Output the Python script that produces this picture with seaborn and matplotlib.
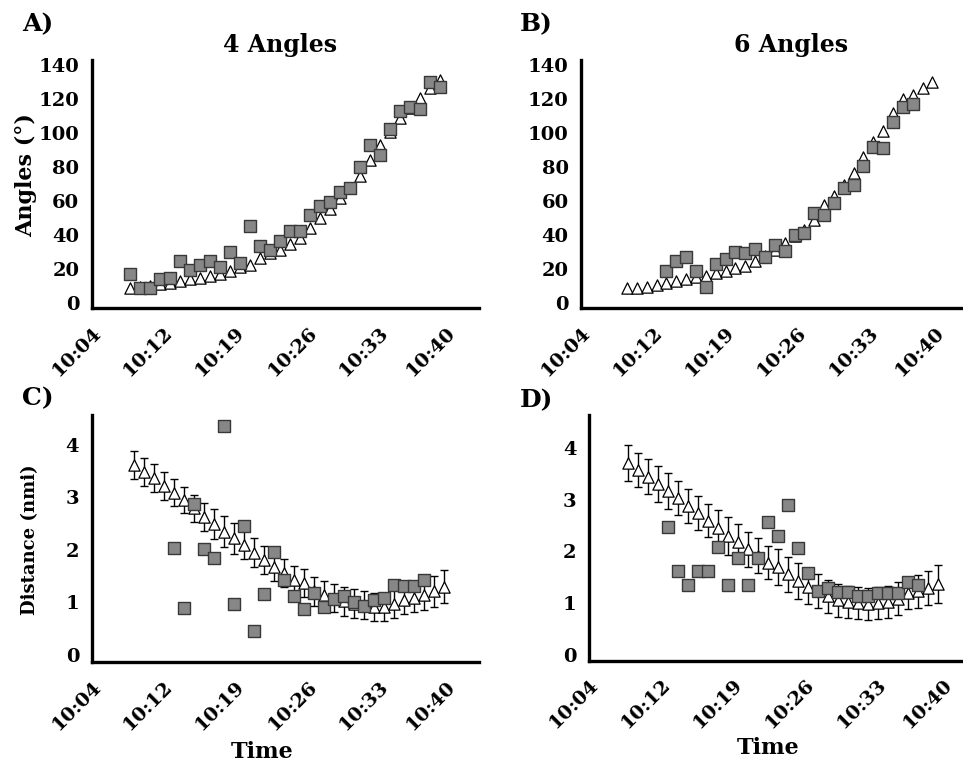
import matplotlib
matplotlib.use('Agg')
import matplotlib.pyplot as plt
import seaborn as sns
import pandas as pd

sns.set_style('white')
plt.rcParams['font.family'] = ['DejaVu Serif', 'Liberation Serif']
plt.rcParams['font.weight'] = 'bold'
for key in ['text.color', 'axes.labelcolor', 'xtick.color', 'ytick.color', 'axes.edgecolor']:
    plt.rcParams[key] = 'black'

# ---- axis ticks (minutes after 10:00) ----
tick_pos = [4.8, 12.0, 19.2, 26.4, 33.6, 40.2]
tick_labels = ['10:04', '10:12', '10:19', '10:26', '10:33', '10:40']

# ---- Panel A: 4 angles ----
tA = [8.6, 9.6, 10.6, 11.6, 12.6, 13.6, 14.6, 15.6, 16.6, 17.6, 18.6, 19.6, 20.6, 21.6, 22.6, 23.6,
      24.6, 25.6, 26.6, 27.6, 28.6, 29.6, 30.6, 31.6, 32.6, 33.6, 34.6, 35.6, 36.6, 37.6, 38.6, 39.6]
A_model = [8.6, 9.2, 10, 11, 11.9, 13.1, 13.9, 14.9, 15.9, 17, 19, 21, 22.3, 26.2, 29.2, 31.1,
           34.4, 38, 43.9, 49.7, 55, 61.5, 67.4, 74.6, 84, 92.8, 100.6, 108.5, 114.3, 120.2, 126, 131]
A_obs = [17, 8.6, 8.6, 13.9, 14.9, 24.7, 19.4, 22.3, 24.7, 21.3, 30.1, 23.3, 45.2, 33.7, 31.1, 36.4,
         42.5, 42.5, 51.7, 57, 59.5, 65, 67.4, 80, 92.8, 86.9, 102, 112.7, 114.9, 113.9, 129.6, 126.8]

# ---- Panel B: 6 angles ----
tB = [9.4, 10.4, 11.4, 12.4, 13.3, 14.3, 15.3, 16.3, 17.3, 18.3, 19.3, 20.2, 21.2, 22.2, 23.2, 24.2,
      25.2, 26.2, 27.1, 28.1, 29.1, 30.1, 31.1, 32.1, 33.0, 34.0, 35.0, 36.0, 37.0, 38.0, 39.0, 39.9]
B_model = [9.0, 9.0, 9.4, 10.6, 11.9, 13.1, 13.9, 15.1, 15.9, 17.4, 18.8, 20.4, 21.7, 24.7, 27.8, 31.0,
           35, 39, 42.9, 48.7, 57.5, 63, 69.3, 76.5, 85.5, 94.7, 101.2, 111.4, 119.5, 122, 126, 130]
tB_obs = [13.3, 14.3, 15.3, 16.3, 17.3, 18.3, 19.3, 20.2, 21.2, 22.2, 23.2, 24.2, 25.2, 26.2, 27.1,
          28.1, 29.1, 30.1, 31.1, 32.1, 33.0, 34.0, 35.0, 36.0, 37.0, 38.0]
B_obs = [19, 24.7, 26.8, 19, 9.6, 22.7, 25.7, 29.8, 29.2, 31.7, 27.2, 34, 30.5, 40, 40.9,
         53, 51.7, 58.5, 67.3, 69.3, 80.4, 91.4, 90.8, 106.5, 114.8, 117]

# ---- Panel C: distance, 4 angles ----
tC = [9.0, 10.0, 11.0, 12.0, 13.0, 14.0, 15.0, 16.0, 17.0, 18.0, 19.0, 20.0, 21.0, 22.0, 23.0, 24.0,
      25.0, 26.0, 27.0, 28.0, 29.0, 30.0, 31.0, 32.0, 33.0, 34.0, 35.0, 36.0, 37.0, 38.0, 39.0, 40.0]
C_model = [3.62, 3.49, 3.37, 3.22, 3.09, 2.95, 2.79, 2.63, 2.49, 2.35, 2.22, 2.10, 1.95, 1.81, 1.68, 1.56,
           1.43, 1.37, 1.21, 1.14, 1.08, 1.02, 0.98, 0.95, 0.92, 0.92, 0.98, 1.05, 1.09, 1.14, 1.21, 1.30]
C_err = [0.27, 0.27, 0.27, 0.26, 0.26, 0.25, 0.26, 0.27, 0.29, 0.29, 0.29, 0.28, 0.28, 0.27, 0.27, 0.27,
         0.27, 0.27, 0.27, 0.27, 0.27, 0.27, 0.27, 0.27, 0.27, 0.27, 0.27, 0.27, 0.28, 0.28, 0.29, 0.31]
tC_obs = [13.0, 14.0, 15.0, 16.0, 17.0, 18.0, 19.0, 20.0, 21.0, 22.0, 23.0, 24.0, 25.0, 26.0, 27.0,
          28.0, 29.0, 30.0, 31.0, 32.0, 33.0, 34.0, 35.0, 36.0, 37.0, 38.0]
C_obs = [2.03, 0.90, 2.88, 2.01, 1.85, 4.36, 0.98, 2.46, 0.46, 1.16, 1.97, 1.42, 1.13, 0.88, 1.19,
         0.92, 1.07, 1.13, 1.00, 0.94, 1.05, 1.09, 1.33, 1.31, 1.31, 1.42]

# ---- Panel D: distance, 6 angles ----
tD = [8.7, 9.7, 10.7, 11.7, 12.7, 13.7, 14.7, 15.7, 16.7, 17.7, 18.7, 19.7, 20.7, 21.7, 22.7, 23.7,
      24.7, 25.7, 26.7, 27.7, 28.7, 29.7, 30.7, 31.7, 32.7, 33.7, 34.7, 35.7, 36.7, 37.7, 38.7, 39.7]
D_model = [3.70, 3.57, 3.44, 3.30, 3.17, 3.03, 2.88, 2.74, 2.59, 2.45, 2.30, 2.18, 2.04, 1.92, 1.78, 1.70,
           1.56, 1.43, 1.32, 1.24, 1.13, 1.06, 1.03, 1.00, 0.98, 1.01, 1.03, 1.09, 1.19, 1.23, 1.29, 1.37]
D_err = [0.35, 0.33, 0.34, 0.35, 0.35, 0.32, 0.33, 0.32, 0.32, 0.34, 0.36, 0.35, 0.34, 0.33, 0.32, 0.34,
         0.34, 0.35, 0.33, 0.33, 0.32, 0.32, 0.31, 0.31, 0.31, 0.31, 0.31, 0.31, 0.31, 0.32, 0.33, 0.36]
tD_obs = [12.7, 13.7, 14.7, 15.7, 16.7, 17.7, 18.7, 19.7, 20.7, 21.7, 22.7, 23.7, 24.7, 25.7, 26.7,
          27.7, 28.7, 29.7, 30.7, 31.7, 32.7, 33.7, 34.7, 35.7, 36.7, 37.7]
D_obs = [2.47, 1.62, 1.36, 1.62, 1.62, 2.09, 1.36, 1.88, 1.36, 1.88, 2.57, 2.30, 2.90, 2.06, 1.58,
         1.24, 1.29, 1.22, 1.22, 1.13, 1.13, 1.19, 1.19, 1.19, 1.40, 1.36]

angle_ticks = [0, 20, 40, 60, 80, 100, 120, 140]
dist_ticks = [0, 1, 2, 3, 4]

W, H = 963, 769
fig = plt.figure(figsize=(W / 100, H / 100), dpi=100)


def add_axes(left, right, top, bottom):
    return fig.add_axes([left / W, 1 - bottom / H, (right - left) / W, (bottom - top) / H])


SQ = dict(marker='s', s=66, color='#878787', edgecolor='#383838', linewidth=1.0, zorder=4, clip_on=False)
TRI = dict(marker='^', s=66, color='white', edgecolor='black', linewidth=0.9, zorder=3, clip_on=False)
TF = dict(family=['DejaVu Serif', 'Liberation Serif'], weight='bold', color='black')


def style(ax, xlim, ylim, yticks):
    ax.set_xlim(*xlim)
    ax.set_ylim(*ylim)
    ax.set_xticks(tick_pos)
    ax.set_xticklabels(tick_labels)
    ax.set_yticks(yticks)
    ax.set_yticklabels([str(v) for v in yticks])
    for s in ['top', 'right']:
        ax.spines[s].set_visible(False)
    for s in ['left', 'bottom']:
        ax.spines[s].set_linewidth(2.4)
        ax.spines[s].set_color('black')
    ax.tick_params(axis='both', direction='out', length=8, width=2.4, color='black',
                   labelcolor='black', labelsize=14, pad=1)
    ax.tick_params(axis='x', length=9, pad=2)
    for lab in ax.get_xticklabels():
        lab.set_rotation(45)
        lab.set_ha('right')
        lab.set_va('top')
        lab.set_rotation_mode('anchor')
        lab.set_fontweight('bold')
    for lab in ax.get_yticklabels():
        lab.set_fontweight('bold')
    ax.set_xlabel('')
    ax.set_ylabel('')
    ax.grid(False)


# Panel A
axA = add_axes(91.7, 478.7, 60.3, 308)
sns.scatterplot(x=tA, y=A_model, ax=axA, **TRI)
sns.scatterplot(x=tA, y=A_obs, ax=axA, **SQ)
style(axA, (4.8, 43.5), (-3, 142.5), angle_ticks)

# Panel B
axB = add_axes(581, 962, 60.3, 308)
sns.scatterplot(x=tB, y=B_model, ax=axB, **TRI)
sns.scatterplot(x=tB_obs, y=B_obs, ax=axB, **SQ)
style(axB, (4.8, 42.9), (-3, 142.5), angle_ticks)

# Panel C
axC = add_axes(91.7, 478.7, 415, 662)
axC.errorbar(tC, C_model, yerr=C_err, fmt='none', ecolor='black', elinewidth=1.0,
             capsize=3, capthick=1.0, zorder=2)
sns.scatterplot(x=tC, y=C_model, ax=axC, **TRI)
sns.scatterplot(x=tC_obs, y=C_obs, ax=axC, **SQ)
style(axC, (4.8, 43.5), (-0.133, 4.57), dist_ticks)

# Panel D
axD = add_axes(589, 963, 415, 660.7)
axD.errorbar(tD, D_model, yerr=D_err, fmt='none', ecolor='black', elinewidth=1.0,
             capsize=3, capthick=1.0, zorder=2)
sns.scatterplot(x=tD, y=D_model, ax=axD, **TRI)
sns.scatterplot(x=tD_obs, y=D_obs, ax=axD, **SQ)
style(axD, (4.8, 42.2), (-0.11, 4.633), dist_ticks)

# Texts
fig.text(22 / W, 1 - 24 / H, 'A)', fontsize=18, ha='left', va='center', **TF)
fig.text(520 / W, 1 - 24 / H, 'B)', fontsize=18, ha='left', va='center', **TF)
fig.text(22 / W, 1 - 398 / H, 'C)', fontsize=18, ha='left', va='center', **TF)
fig.text(520 / W, 1 - 400 / H, 'D)', fontsize=18, ha='left', va='center', **TF)
fig.text(280 / W, 1 - 45 / H, '4 Angles', fontsize=17, ha='center', va='center', **TF)
fig.text(791 / W, 1 - 45 / H, '6 Angles', fontsize=17, ha='center', va='center', **TF)
fig.text(26 / W, 1 - 175 / H, 'Angles (°)', fontsize=16, rotation=90, ha='center', va='center', **TF)
fig.text(30 / W, 1 - 540 / H, 'Distance (nmi)', fontsize=13, rotation=90, ha='center', va='center', **TF)
fig.text(262 / W, 1 - 752 / H, 'Time', fontsize=16, ha='center', va='center', **TF)
fig.text(768 / W, 1 - 748 / H, 'Time', fontsize=16, ha='center', va='center', **TF)

fig.savefig('out.png', dpi=100, facecolor='white')
